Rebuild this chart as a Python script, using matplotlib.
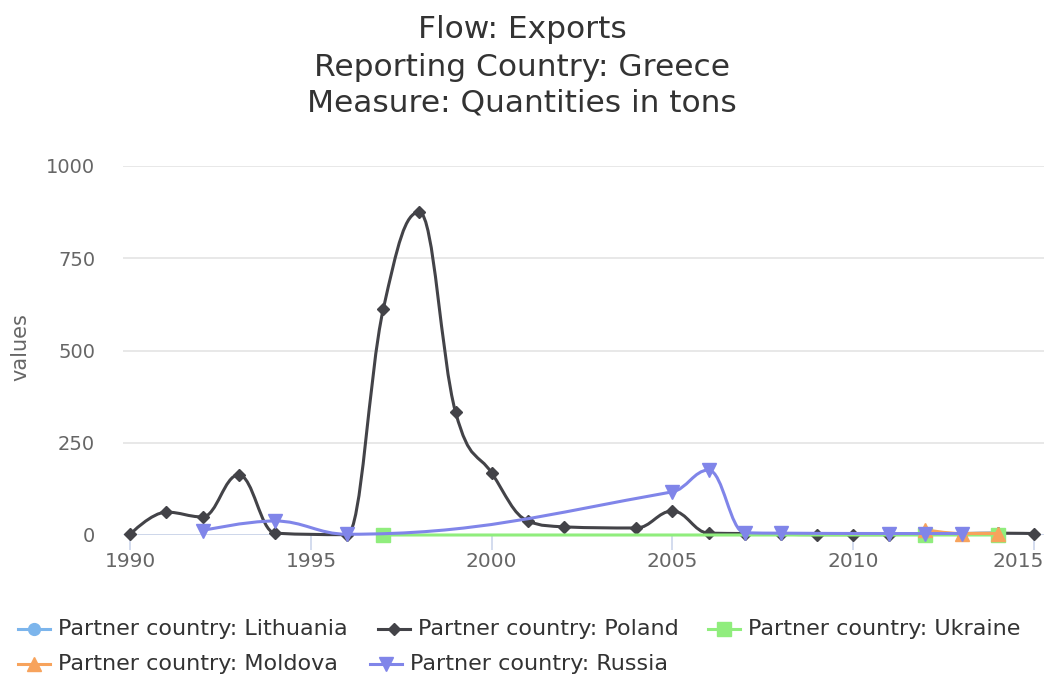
import numpy as np
import matplotlib.pyplot as plt
from matplotlib.path import Path
from matplotlib.patches import PathPatch
from matplotlib.lines import Line2D
from matplotlib.transforms import ScaledTranslation

# --- data ---
years_lithuania = []
values_lithuania = []

years_poland = [1990, 1991, 1992, 1993, 1994, 1996, 1997, 1998, 1999, 2000, 2001, 2002,
                2004, 2005, 2006, 2007, 2008, 2009, 2010, 2011, 2012, 2013, 2014, 2015]
values_poland = [2, 62, 49, 163, 5, 1, 612, 875, 333, 168, 38, 22,
                 19, 65, 5, 4, 2, 1, 1, 1, 3, 4, 5, 4]

years_ukraine = [1997, 2012, 2014]
values_ukraine = [0, 0, 0]

years_moldova = [2012, 2013, 2014]
values_moldova = [14, 4, 4]

years_russia = [1992, 1994, 1996, 2005, 2006, 2007, 2008, 2011, 2012, 2013]
values_russia = [12, 38, 2, 117, 176, 6, 5, 4, 4, 4]

series_names = ['Partner country: Lithuania', 'Partner country: Poland',
                'Partner country: Ukraine', 'Partner country: Moldova',
                'Partner country: Russia']
colors = ['#7cb5ec', '#434348', '#90ed7d', '#f7a35c', '#8085e9']
markers = ['o', 'D', 's', '^', 'v']
msizes = [8.5, 6.6, 9.4, 9.6, 9.6]

y_ticks = [0, 250, 500, 750, 1000]
x_ticks = [1990, 1995, 2000, 2005, 2010, 2015]

title_lines = ['Flow: Exports', 'Reporting Country: Greece', 'Measure: Quantities in tons']


def spline_path(xs, ys, smoothing=1.5):
    # Highcharts-like spline through the points
    n = len(xs)
    denom = smoothing + 1
    left = [None] * n
    right = [None] * n
    for i in range(1, n - 1):
        px, py = xs[i], ys[i]
        lx, ly = xs[i - 1], ys[i - 1]
        nx, ny = xs[i + 1], ys[i + 1]
        lcx = (smoothing * px + lx) / denom
        lcy = (smoothing * py + ly) / denom
        rcx = (smoothing * px + nx) / denom
        rcy = (smoothing * py + ny) / denom
        if rcx != lcx:
            corr = (rcy - lcy) * (rcx - px) / (rcx - lcx) + py - rcy
            lcy += corr
            rcy += corr
            if lcy > ly and lcy > py:
                lcy = max(ly, py)
                rcy = 2 * py - lcy
            elif lcy < ly and lcy < py:
                lcy = min(ly, py)
                rcy = 2 * py - lcy
            if rcy > ny and rcy > py:
                rcy = max(ny, py)
                lcy = 2 * py - rcy
            elif rcy < ny and rcy < py:
                rcy = min(ny, py)
                lcy = 2 * py - rcy
        left[i] = (lcx, lcy)
        right[i] = (rcx, rcy)
    verts = [(xs[0], ys[0])]
    codes = [Path.MOVETO]
    for i in range(1, n):
        rc = right[i - 1] if right[i - 1] else (xs[i - 1], ys[i - 1])
        lc = left[i] if left[i] else (xs[i], ys[i])
        verts += [rc, lc, (xs[i], ys[i])]
        codes += [Path.CURVE4] * 3
    return Path(verts, codes)


W, H = 1044, 677
fig = plt.figure(figsize=(W / 100, H / 100), dpi=100)
ax = fig.add_axes([123 / W, 1 - 535 / H, (1044 - 123) / W, (535 - 166) / H])

ax.set_xlim(1989.8, 2015.28)
ax.set_ylim(0, 1000)
for s in ax.spines.values():
    s.set_visible(False)
ax.set_yticks(y_ticks)
ax.set_xticks(x_ticks)
ax.grid(axis='y', color='#e6e6e6', lw=1.3)
ax.set_axisbelow(True)
ax.axhline(0, color='#ccd6eb', lw=1.3, zorder=1)
ax.tick_params(axis='y', length=0, pad=20, labelsize=14, labelcolor='#666666')
ax.tick_params(axis='x', length=11, width=1.2, color='#ccd6eb', pad=1,
               labelsize=14.5, labelcolor='#666666')
ax.set_ylabel('values', fontsize=15, color='#666666')
ax.yaxis.set_label_coords(-93 / 921, 0.51)

# last tick label is pushed inside the chart edge
last = ax.get_xticklabels()[-1]
last.set_transform(last.get_transform() + ScaledTranslation(-0.16, 0, fig.dpi_scale_trans))

all_data = [(years_lithuania, values_lithuania), (years_poland, values_poland),
            (years_ukraine, values_ukraine), (years_moldova, values_moldova),
            (years_russia, values_russia)]

for k, (xs, ys) in enumerate(all_data):
    if len(xs) < 2:
        continue
    patch = PathPatch(spline_path(xs, ys), facecolor='none', edgecolor=colors[k],
                      lw=2.2, zorder=3 + k, clip_on=False, capstyle='round', joinstyle='round')
    ax.add_patch(patch)
    ax.plot(xs, ys, ls='none', marker=markers[k], ms=msizes[k], color=colors[k],
            mec=colors[k], zorder=3.5 + k, clip_on=False)

for line, y0 in zip(title_lines, [30, 67, 103]):
    fig.text(0.5, 1 - y0 / H, line, ha='center', va='center', fontsize=22.5, color='#333333')

# legend drawn by hand
legend_items = [(0, 18, 629), (1, 378, 629), (2, 708, 629), (3, 18, 664), (4, 370, 664)]
for k, x0, y0 in legend_items:
    yy = 1 - y0 / H
    fig.add_artist(Line2D([x0 / W, (x0 + 32) / W], [yy, yy], color=colors[k], lw=2.2))
    fig.add_artist(Line2D([(x0 + 16) / W], [yy], marker=markers[k], ms=msizes[k],
                          color=colors[k], ls='none'))
    fig.text((x0 + 40) / W, yy, series_names[k], fontsize=16, color='#333333',
             ha='left', va='center')

fig.savefig('out.png', dpi=100)
